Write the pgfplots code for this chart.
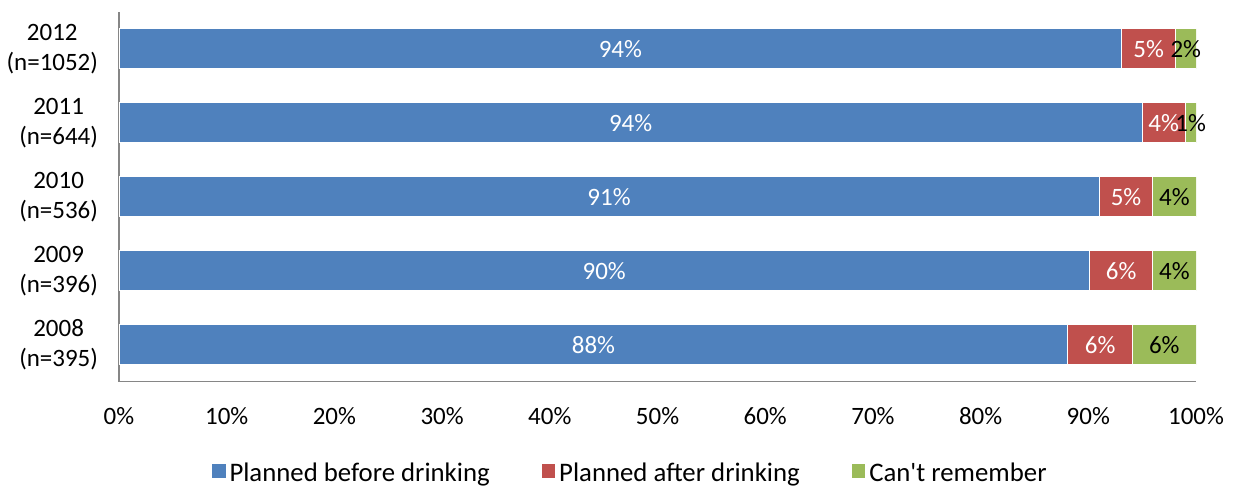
\documentclass[border=0pt]{standalone}
\usepackage{pgfplots}
\pgfplotsset{compat=1.18}
\usepackage{pgfplotstable}
\usepackage{fontspec}
\setmainfont{Carlito}[Ligatures=TeXOff]

\definecolor{cblue}{HTML}{4F81BD}
\definecolor{cred}{HTML}{C0504D}
\definecolor{cgreen}{HTML}{9BBB59}
\definecolor{axgray}{HTML}{868686}

% y: 0 = 2008 ... 4 = 2012; lb/lr/lg are the printed labels
\pgfplotstableread{
y blue red green lb lr lg
0 88.1 6.0 5.9 88 6 6
1 90.1 5.9 4.0 90 6 4
2 91.0 5.0 4.0 91 5 4
3 95.0 4.0 1.0 94 4 1
4 93.1 5.0 1.9 94 5 2
}\data

\pgfplotsset{
  seglab/.style={
    nodes near coords={\pgfplotspointmeta\%},
    point meta=explicit symbolic,
    every node near coord/.append style={anchor=center, text=#1,
      font=\fontsize{12.5bp}{15bp}\selectfont},
  },
}

\begin{document}
\begin{tikzpicture}
\begin{axis}[
  scale only axis,
  width=539bp, height=185bp,
  xbar stacked,
  bar width=20bp,
  xmin=0, xmax=100, ymin=-0.5, ymax=4.5,
  axis x line*=bottom, axis y line*=left,
  axis line style={axgray, line width=0.8bp},
  major tick length=0,
  xtick={0,10,...,100},
  xticklabel={\pgfmathprintnumber{\tick}\%},
  ytick={0,1,2,3,4},
  yticklabels={{2008\\(n=395)},{2009\\(n=396)},{2010\\(n=536)},{2011\\(n=644)},{2012\\(n=1052)}},
  /pgf/number format/assume math mode=true,
  tick label style={font=\fontsize{12.5bp}{15bp}\selectfont},
  yticklabel style={align=center, anchor=east, xshift=-7bp},
  xticklabel style={anchor=center, yshift=-17bp},
  legend columns=3,
  legend style={draw=none, at={(0.4756,-0.2486)}, anchor=center,
    font=\fontsize{13.4bp}{15bp}\selectfont,
    /tikz/every even column/.append style={column sep=24bp}},
  legend image code/.code={\fill[#1,draw=none] (0.5bp,-2.2bp) rectangle (7.3bp,4.6bp);},
]
\addplot[fill=cblue, draw=white, line width=0.5bp, seglab=white]
  table[x=blue, y=y, meta=lb] {\data};
\addplot[fill=cred, draw=white, line width=0.5bp, seglab=white]
  table[x=red, y=y, meta=lr] {\data};
\addplot[fill=cgreen, draw=white, line width=0.5bp, seglab=black]
  table[x=green, y=y, meta=lg] {\data};
\legend{Planned before drinking, Planned after drinking, Can't remember}
\end{axis}
\path (-59bp,-52bp) rectangle (559bp,191bp);
\end{tikzpicture}
\end{document}
